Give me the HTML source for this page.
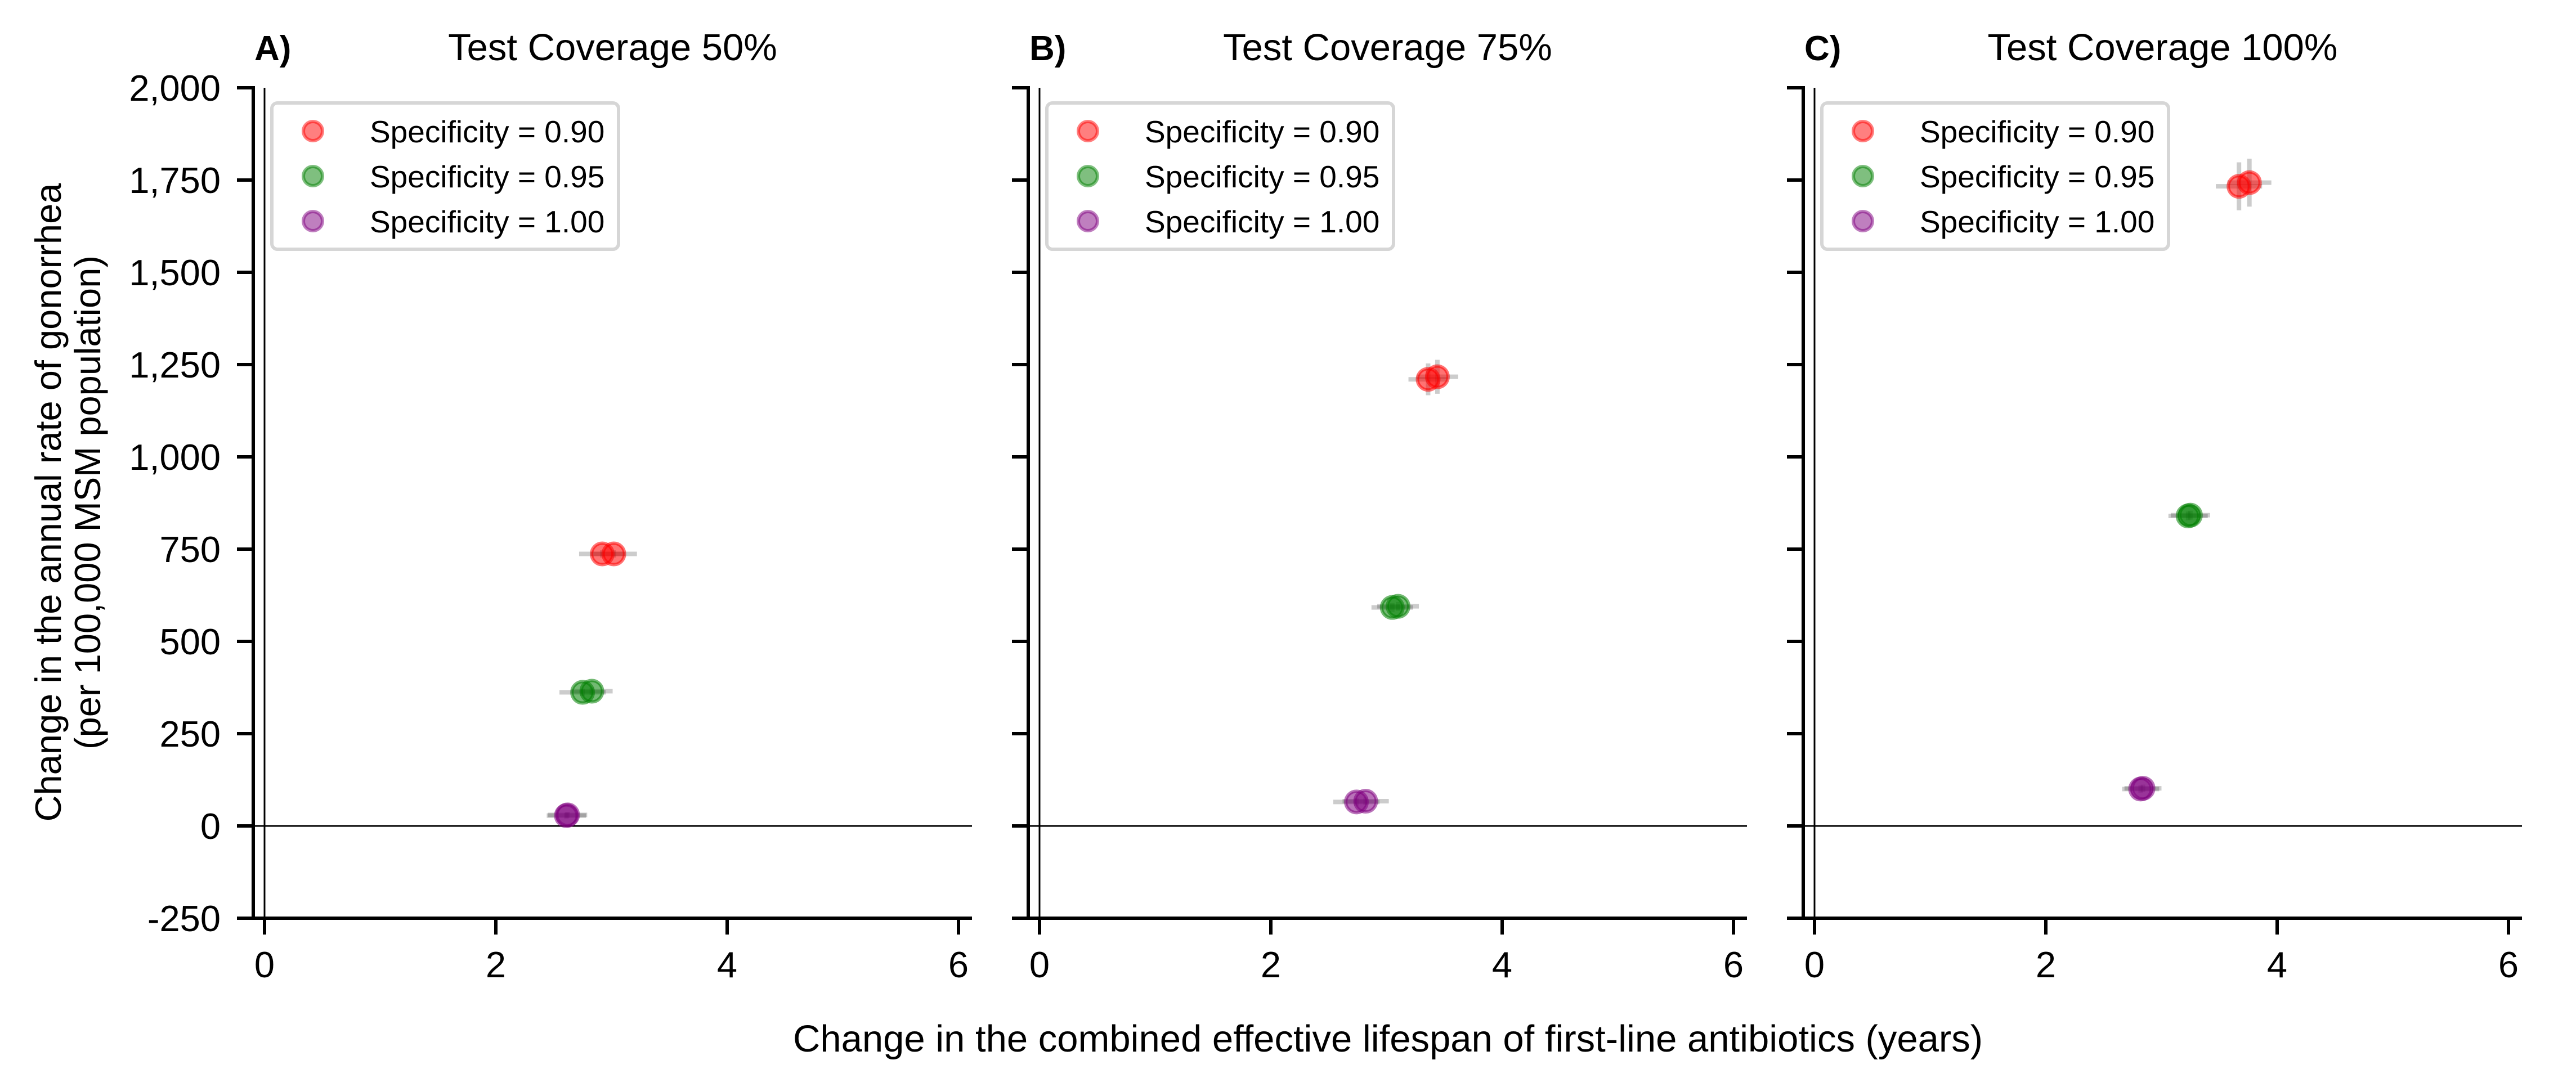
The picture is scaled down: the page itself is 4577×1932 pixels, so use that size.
<!DOCTYPE html>
<html><head><meta charset="utf-8"><style>
html,body{margin:0;padding:0;background:#fff;}
svg{display:block;font-family:"Liberation Sans",Arial,sans-serif;}
</style></head><body>
<svg id="chart" width="4577" height="1932" viewBox="0 0 4577 1932" xmlns="http://www.w3.org/2000/svg">
<g id="root"></g>
</svg>
<script>
const panelLabels = ["A)", "B)", "C)"];
const panelTitles = ["Test Coverage 50%", "Test Coverage 75%", "Test Coverage 100%"];
const seriesNames = ["Specificity = 0.90", "Specificity = 0.95", "Specificity = 1.00"];
const seriesColors = ["#ff0000", "#008000", "#800080"];
const yTicks = [-250, 0, 250, 500, 750, 1000, 1250, 1500, 1750, 2000];
const yTickLabels = ["-250", "0", "250", "500", "750", "1,000", "1,250", "1,500", "1,750", "2,000"];
const xTicks = [0, 2, 4, 6];
const xTickLabels = ["0", "2", "4", "6"];

const xA = [[2.92, 3.02], [2.75, 2.83], [2.61, 2.62]];
const yA = [[737, 737], [362, 365], [28, 30]];
const xErrA = [[0.2, 0.2], [0.2, 0.18], [0.17, 0.17]];
const yErrA = [[10, 10], [10, 10], [8, 8]];

const xB = [[3.36, 3.44], [3.05, 3.10], [2.74, 2.82]];
const yB = [[1210, 1217], [592, 595], [65, 67]];
const xErrB = [[0.17, 0.18], [0.18, 0.18], [0.2, 0.2]];
const yErrB = [[43, 46], [12, 12], [10, 10]];

const xC = [[3.67, 3.76], [3.23, 3.25], [2.82, 2.84]];
const yC = [[1733, 1743], [840, 842], [100, 102]];
const xErrC = [[0.2, 0.19], [0.17, 0.17], [0.16, 0.16]];
const yErrC = [[65, 65], [12, 12], [10, 10]];

const panelX = [xA, xB, xC];
const panelY = [yA, yB, yC];
const panelXErr = [xErrA, xErrB, xErrC];
const panelYErr = [yErrA, yErrB, yErrC];

const NS = "http://www.w3.org/2000/svg";
const root = document.getElementById("root");
function mk(tag, attrs, parent, text) {
  const e = document.createElementNS(NS, tag);
  for (const k in attrs) e.setAttribute(k, attrs[k]);
  if (text !== undefined) e.textContent = text;
  (parent || root).appendChild(e);
  return e;
}
const X0 = 470, PANEL_DX = 1377, XS = 205.5;
const Y0 = 1468, YS = 164 / 250;
const yMap = v => Y0 - v * YS;
const TOP = yMap(2000), BOT = yMap(-250);

for (let p = 0; p < 3; p++) {
  const x0 = X0 + p * PANEL_DX;
  const xMap = v => x0 + v * XS;
  const left = x0 - 20, right = x0 + 1257;
  const g = mk("g", {});
  
  

  const hz = mk("line", {x1: left, x2: right, y1: yMap(0), y2: yMap(0), stroke: "#000", "stroke-width": 3}, g);
  
  
  const vz = mk("line", {x1: xMap(0), x2: xMap(0), y1: TOP, y2: BOT, stroke: "#000", "stroke-width": 3}, g);
  
  

  const ls = mk("line", {x1: left, x2: left, y1: TOP - 3, y2: BOT + 3, stroke: "#000", "stroke-width": 6}, g);
  
  
  const bs = mk("line", {x1: left - 3, x2: right, y1: BOT, y2: BOT, stroke: "#000", "stroke-width": 6}, g);
  
  

  yTicks.forEach((t, i) => {
    const tk = mk("line", {x1: left - 29, x2: left, y1: yMap(t), y2: yMap(t), stroke: "#000", "stroke-width": 6}, g);
    
    
    if (p === 0) {
      const tl = mk("text", {x: 392, y: yMap(t) + 23, "text-anchor": "end", "font-size": 65}, g, yTickLabels[i]);
      
      
    }
  });
  xTicks.forEach((t, i) => {
    const tk = mk("line", {x1: xMap(t), x2: xMap(t), y1: BOT, y2: BOT + 29, stroke: "#000", "stroke-width": 6}, g);
    
    
    const tl = mk("text", {x: xMap(t), y: 1737, "text-anchor": "middle", "font-size": 65}, g, xTickLabels[i]);
    
    
  });

  const pl = mk("text", {x: 452, y: 107, "font-size": 62, "font-weight": "bold"}, g, panelLabels[p]);
  pl.setAttribute('transform', 'translate(' + (p * PANEL_DX) + ',0)');
  
  
  const tt = mk("text", {x: (left + right) / 2, y: 107, "text-anchor": "middle", "font-size": 67}, g, panelTitles[p]);
  
  

  for (let s = 0; s < 3; s++) {
    const xs = panelX[p][s], ys = panelY[p][s], xe = panelXErr[p][s], ye = panelYErr[p][s];
    for (let k = 0; k < xs.length; k++) {
      const eh = mk("line", {x1: xMap(xs[k] - xe[k]), x2: xMap(xs[k] + xe[k]), y1: yMap(ys[k]), y2: yMap(ys[k]), stroke: "#000", "stroke-opacity": 0.2, "stroke-width": 8}, g);
      
      
      const ev = mk("line", {x1: xMap(xs[k]), x2: xMap(xs[k]), y1: yMap(ys[k] - ye[k]), y2: yMap(ys[k] + ye[k]), stroke: "#000", "stroke-opacity": 0.2, "stroke-width": 8}, g);
      
      
    }
    for (let k = 0; k < xs.length; k++) {
      const c = mk("circle", {cx: xMap(xs[k]), cy: yMap(ys[k]), r: 19, fill: seriesColors[s], "fill-opacity": 0.55, stroke: seriesColors[s], "stroke-opacity": 0.55, "stroke-width": 6}, g);
      
      
    }
  }

  const lg = mk("g", {}, g);
  
  
  mk("rect", {x: x0 + 13, y: 183, width: 616, height: 260, rx: 10, fill: "#fff", "fill-opacity": 0.8, stroke: "#d6d6d6", "stroke-width": 6}, lg);
  for (let s = 0; s < 3; s++) {
    const cy = 233 + s * 80;
    const m = mk("circle", {cx: x0 + 86, cy: cy, r: 17, fill: seriesColors[s], "fill-opacity": 0.5, stroke: seriesColors[s], "stroke-opacity": 0.5, "stroke-width": 6}, lg);
    
    
    const lt = mk("text", {x: x0 + 187, y: cy + 20, "font-size": 55}, lg, seriesNames[s]);
    
    
  }
}

const yl1 = mk("text", {x: 0, y: 0, "text-anchor": "middle", "font-size": 65, transform: "translate(108,893) rotate(-90)"}, root, "Change in the annual rate of gonorrhea");


const yl2 = mk("text", {x: 0, y: 0, "text-anchor": "middle", "font-size": 65, transform: "translate(178,893) rotate(-90)"}, root, "(per 100,000 MSM population)");


const xl = mk("text", {x: 2466, y: 1869, "text-anchor": "middle", "font-size": 67}, root, "Change in the combined effective lifespan of first-line antibiotics (years)");


</script>
</body></html>
